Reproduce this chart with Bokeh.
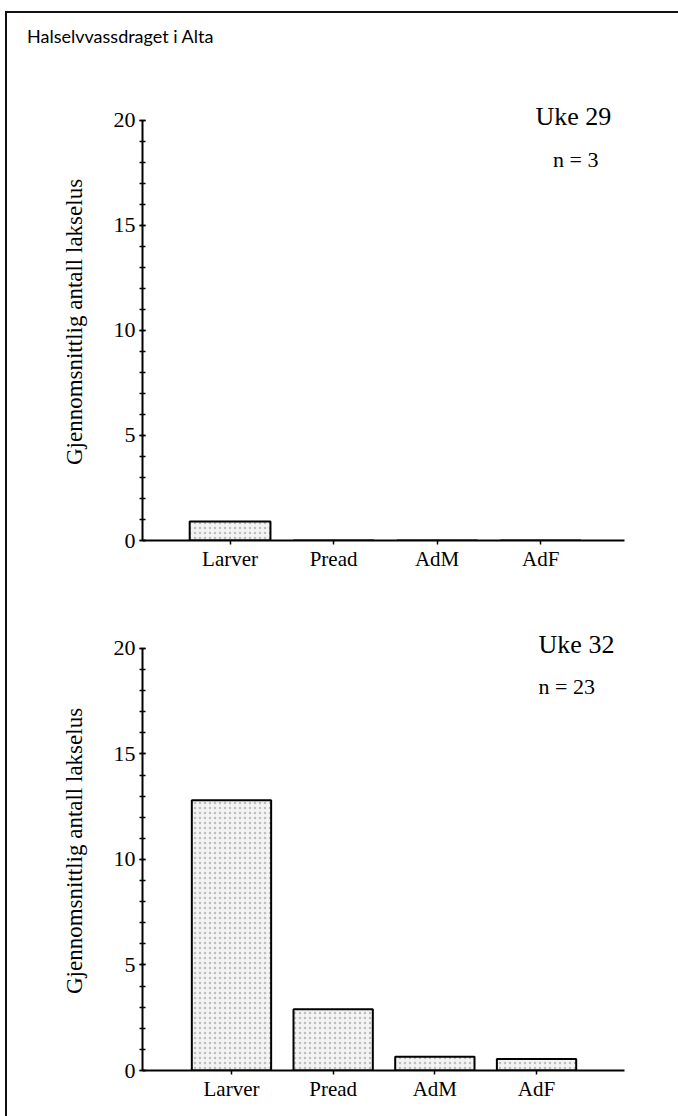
from bokeh.plotting import figure
from bokeh.models import Div, Label, FixedTicker, SingleIntervalTicker, Range1d, ColumnDataSource
from bokeh.layouts import column
from bokeh.embed import file_html
from bokeh.resources import INLINE

# ---- data ----
categories = ["Larver", "Pread", "AdM", "AdF"]
uke29_values = [0.9, 0.0, 0.0, 0.0]
uke32_values = [12.8, 2.9, 0.65, 0.55]
panel_titles = ["Uke 29", "Uke 32"]
panel_n = ["n = 3", "n = 23"]
y_title = "Gjennomsnittlig antall lakselus"
page_title = "Halselvvassdraget i Alta"
y_ticks_interval = 5
y_max = 20

SERIF = "Liberation Serif"


def make_panel(values, title, ntext, height, b_left, b_right, b_top, b_bottom, xr, uke_pos, n_pos):
    xs = list(range(1, len(categories) + 1))
    src = ColumnDataSource(dict(x=xs, top=values, cat=categories))
    p = figure(width=671, height=height, output_backend="svg", toolbar_location=None,
               x_range=Range1d(*xr), y_range=Range1d(0, y_max + 0.8),
               min_border_left=b_left, min_border_right=b_right,
               min_border_top=b_top, min_border_bottom=b_bottom)
    p.outline_line_color = None
    p.grid.visible = False
    p.background_fill_color = "white"
    p.border_fill_color = "white"
    p.vbar(x="x", top="top", bottom=0, width=0.78, source=src,
           fill_color="#f3f3f3", line_color="black", line_width=2,
           hatch_pattern=".", hatch_color="#9a9a9a", hatch_scale=5, hatch_alpha=0.6)

    xa = p.xaxis[0]
    xa.ticker = FixedTicker(ticks=xs)
    xa.major_label_overrides = {x: c for x, c in zip(xs, categories)}
    xa.major_label_text_font = SERIF
    xa.major_label_text_font_size = "21px"
    xa.major_label_text_color = "black"
    xa.major_tick_in = 0
    xa.major_tick_out = 4
    xa.minor_tick_line_color = None
    xa.axis_line_width = 2
    xa.axis_line_color = "black"
    xa.major_tick_line_color = "black"
    xa.major_tick_line_width = 1.5
    xa.major_label_standoff = 2

    ya = p.yaxis[0]
    ya.bounds = (0, y_max)
    ya.ticker = SingleIntervalTicker(interval=y_ticks_interval, num_minor_ticks=5)
    ya.major_label_text_font = SERIF
    ya.major_label_text_font_size = "22px"
    ya.major_label_text_color = "black"
    ya.major_tick_in = 3
    ya.major_tick_out = 3
    ya.minor_tick_in = 3
    ya.minor_tick_out = 3
    ya.axis_line_width = 2
    ya.axis_line_color = "black"
    ya.major_tick_line_color = "black"
    ya.minor_tick_line_color = "black"
    ya.major_tick_line_width = 1.5
    ya.minor_tick_line_width = 1.5
    ya.major_label_standoff = 4
    ya.axis_label = y_title
    ya.axis_label_text_font = SERIF
    ya.axis_label_text_font_style = "normal"
    ya.axis_label_text_font_size = "23px"
    ya.axis_label_text_color = "black"
    ya.axis_label_standoff = 24

    p.add_layout(Label(x=uke_pos[0], y=uke_pos[1], text=title, text_font=SERIF,
                       text_font_size="26px", text_baseline="middle", text_align="left",
                       text_color="black"))
    p.add_layout(Label(x=n_pos[0], y=n_pos[1], text=ntext, text_font=SERIF,
                       text_font_size="22px", text_baseline="middle", text_align="left",
                       text_color="black"))
    return p


title_div = Div(text=page_title, width=671, height=47,
                styles={"font-family": "Lato", "font-size": "18px", "color": "black",
                        "padding-left": "15px", "padding-top": "6px", "box-sizing": "border-box"})

p1 = make_panel(uke29_values, panel_titles[0], panel_n[0], 520, 135, 54, 33, 50,
                (0.154, 4.81), (3.95, 20.2), (4.12, 18.15))
p2 = make_panel(uke32_values, panel_titles[1], panel_n[1], 536, 130, 48, 41, 56,
                (0.125, 4.865), (4.02, 20.2), (4.02, 18.2))

layout = column(title_div, p1, p2, spacing=0, margin=(11, 0, 0, 5),
                styles={"border-left": "2px solid #111", "border-top": "2px solid #111"})

open("out.html", "w").write(file_html(layout, INLINE))
